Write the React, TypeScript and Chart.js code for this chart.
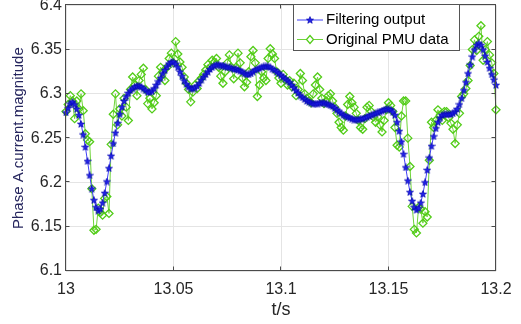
import React, { useEffect, useRef } from "react";
import { Chart, registerables } from "chart.js";

Chart.register(...registerables);

// ---- data ----
const START_TIME = 13;
const SAMPLE_STEP = 0.001;

const seriesLabels = ["Filtering output", "Original PMU data"];
const xTitle = "t/s";
const yTitle = "Phase A.current.magnitude";
const xTicks = [13, 13.05, 13.1, 13.15, 13.2];
const yTicks = [6.1, 6.15, 6.2, 6.25, 6.3, 6.35, 6.4];

const filteringOutput = [
  6.279, 6.284, 6.289, 6.291, 6.288, 6.283, 6.276, 6.266, 6.254, 6.240,
  6.224, 6.208, 6.193, 6.180, 6.172, 6.168, 6.170, 6.177, 6.188, 6.201,
  6.216, 6.230, 6.244, 6.256, 6.267, 6.277, 6.285, 6.292, 6.297, 6.301,
  6.304, 6.306, 6.308, 6.309, 6.309, 6.308, 6.306, 6.304, 6.302, 6.302,
  6.303, 6.306, 6.310, 6.314, 6.318, 6.323, 6.327, 6.331, 6.334, 6.336,
  6.336, 6.334, 6.330, 6.325, 6.320, 6.315, 6.311, 6.308, 6.306, 6.306,
  6.307, 6.309, 6.312, 6.316, 6.319, 6.322, 6.325, 6.328, 6.330, 6.332,
  6.333, 6.333, 6.332, 6.332, 6.331, 6.330, 6.330, 6.329, 6.328, 6.328,
  6.327, 6.326, 6.325, 6.323, 6.322, 6.322, 6.323, 6.325, 6.327, 6.328,
  6.329, 6.330, 6.331, 6.331, 6.331, 6.330, 6.328, 6.327, 6.325, 6.323,
  6.321, 6.319, 6.317, 6.315, 6.313, 6.310, 6.307, 6.304, 6.301, 6.298,
  6.296, 6.294, 6.292, 6.291, 6.290, 6.289, 6.289, 6.289, 6.290, 6.290,
  6.290, 6.289, 6.288, 6.287, 6.286, 6.284, 6.282, 6.280, 6.278, 6.276,
  6.275, 6.274, 6.273, 6.272, 6.271, 6.271, 6.271, 6.272, 6.272, 6.273,
  6.274, 6.275, 6.276, 6.277, 6.278, 6.279, 6.280, 6.281, 6.282, 6.283,
  6.283, 6.282, 6.280, 6.276, 6.268, 6.258, 6.246, 6.232, 6.217, 6.202,
  6.189, 6.179, 6.172, 6.169, 6.171, 6.177, 6.187, 6.200, 6.214, 6.228,
  6.241, 6.252, 6.261, 6.268, 6.273, 6.276, 6.277, 6.277, 6.277, 6.277,
  6.278, 6.280, 6.283, 6.288, 6.295, 6.304, 6.313, 6.323, 6.333, 6.342,
  6.350, 6.355, 6.357, 6.355, 6.350, 6.343, 6.336, 6.329, 6.322, 6.316,
  6.310,
];

const originalPMU = [
  6.280, 6.288, 6.298, 6.292, 6.272, 6.292, 6.283, 6.300, 6.281, 6.255,
  6.248, 6.246, 6.193, 6.146, 6.147, 6.171, 6.166, 6.163, 6.182, 6.184,
  6.165, 6.243, 6.277, 6.300, 6.265, 6.283, 6.275, 6.295, 6.285, 6.270,
  6.305, 6.319, 6.310, 6.298, 6.315, 6.322, 6.329, 6.305, 6.289, 6.295,
  6.283, 6.290, 6.298, 6.320, 6.330, 6.325, 6.315, 6.330, 6.340, 6.346,
  6.335, 6.359, 6.345, 6.336, 6.330, 6.319, 6.312, 6.305, 6.291, 6.302,
  6.310, 6.306, 6.315, 6.318, 6.322, 6.327, 6.333, 6.330, 6.338, 6.336,
  6.340, 6.330, 6.320, 6.312, 6.325, 6.335, 6.344, 6.330, 6.317, 6.330,
  6.346, 6.335, 6.318, 6.308, 6.313, 6.325, 6.342, 6.349, 6.335, 6.297,
  6.310, 6.325, 6.318, 6.315, 6.340, 6.351, 6.345, 6.340, 6.325, 6.318,
  6.312, 6.322, 6.316, 6.310, 6.315, 6.308, 6.312, 6.298, 6.305, 6.323,
  6.315, 6.300, 6.295, 6.292, 6.290, 6.300, 6.310, 6.319, 6.305, 6.295,
  6.289, 6.292, 6.298, 6.300, 6.292, 6.285, 6.278, 6.268, 6.262, 6.259,
  6.275, 6.288, 6.297, 6.290, 6.285, 6.278, 6.270, 6.262, 6.260, 6.272,
  6.285, 6.287, 6.280, 6.274, 6.268, 6.274, 6.265, 6.257, 6.270, 6.282,
  6.290, 6.287, 6.280, 6.262, 6.242, 6.240, 6.275, 6.292, 6.292, 6.250,
  6.218, 6.173, 6.147, 6.143, 6.172, 6.170, 6.154, 6.167, 6.161, 6.225,
  6.268, 6.262, 6.270, 6.282, 6.276, 6.270, 6.280, 6.280, 6.273, 6.267,
  6.260, 6.244, 6.265, 6.278, 6.297, 6.300, 6.306, 6.315, 6.332, 6.350,
  6.361, 6.349, 6.365, 6.377, 6.338, 6.350, 6.359, 6.344, 6.335, 6.323,
  6.282,
];

// ---- styles ----
const FONT = "'Liberation Sans', Arial, Helvetica, sans-serif";
const BLUE_LINE = "#4040f5";
const BLUE_FILL = "#2222e8";
const BLUE_EDGE = "#0000b0";
const GREEN_LINE = "#6fd43a";
const GREEN_MARK = "#52cc18";
const AXIS = "#4a4a4a";
const STAR_SIZE = 8;

function makeStar(size: number) {
  const c = document.createElement("canvas");
  c.width = size;
  c.height = size;
  const ctx = c.getContext("2d")!;
  const cx = size / 2;
  const cy = size / 2 + 0.3;
  const R = size / 2 - 0.3;
  const r = R * 0.42;
  ctx.beginPath();
  for (let k = 0; k < 10; k++) {
    const ang = -Math.PI / 2 + (k * Math.PI) / 5;
    const rad = k % 2 === 0 ? R : r;
    ctx.lineTo(cx + rad * Math.cos(ang), cy + rad * Math.sin(ang));
  }
  ctx.closePath();
  ctx.fillStyle = BLUE_FILL;
  ctx.fill();
  ctx.strokeStyle = BLUE_EDGE;
  ctx.lineWidth = 0.7;
  ctx.stroke();
  return c;
}

const fmt = (v: number) => String(Math.round(v * 100) / 100);

export default function App() {
  const ref = useRef<HTMLCanvasElement | null>(null);

  useEffect(() => {
    const canvas = ref.current;
    if (!canvas) return;
    const star = makeStar(STAR_SIZE);

    const framePlugin = {
      id: "frame",
      afterDatasetsDraw(chart: any) {
        const { ctx, chartArea } = chart;
        const { left, right, top, bottom } = chartArea;
        const xs = chart.scales.x;
        const ys = chart.scales.y;
        ctx.save();
        ctx.strokeStyle = AXIS;
        ctx.lineWidth = 1;
        const L = Math.round(left) - 0.5;
        const Rr = Math.round(right) - 0.5;
        const T = Math.round(top) - 0.5;
        const B = Math.round(bottom) - 0.5;
        ctx.strokeRect(L, T, Rr - L, B - T);
        ctx.beginPath();
        const tl = 4;
        xTicks.forEach((v) => {
          const p = Math.round(xs.getPixelForValue(v)) - 0.5;
          ctx.moveTo(p, B);
          ctx.lineTo(p, B - tl);
          ctx.moveTo(p, T);
          ctx.lineTo(p, T + tl);
        });
        yTicks.forEach((v) => {
          const p = Math.round(ys.getPixelForValue(v)) - 0.5;
          ctx.moveTo(L, p);
          ctx.lineTo(L + tl, p);
          ctx.moveTo(Rr, p);
          ctx.lineTo(Rr - tl, p);
        });
        ctx.stroke();
        ctx.restore();
      },
      afterDraw(chart: any) {
        const { ctx } = chart;
        ctx.save();
        const bx = 293.5, by = 4.5, bw = 166, bh = 46;
        ctx.fillStyle = "#ffffff";
        ctx.fillRect(bx, by, bw, bh);
        ctx.strokeStyle = "#555555";
        ctx.lineWidth = 1;
        ctx.strokeRect(bx, by, bw, bh);
        const rows = [20, 39.5];
        ctx.strokeStyle = BLUE_LINE;
        ctx.beginPath();
        ctx.moveTo(297, rows[0]);
        ctx.lineTo(323, rows[0]);
        ctx.stroke();
        ctx.drawImage(star, 310 - STAR_SIZE / 2, rows[0] - STAR_SIZE / 2, STAR_SIZE, STAR_SIZE);
        ctx.strokeStyle = GREEN_LINE;
        ctx.beginPath();
        ctx.moveTo(297, rows[1]);
        ctx.lineTo(323, rows[1]);
        ctx.stroke();
        ctx.strokeStyle = GREEN_MARK;
        ctx.lineWidth = 1.2;
        ctx.fillStyle = "#ffffff";
        ctx.beginPath();
        ctx.moveTo(310, rows[1] - 4);
        ctx.lineTo(313.5, rows[1]);
        ctx.lineTo(310, rows[1] + 4);
        ctx.lineTo(306.5, rows[1]);
        ctx.closePath();
        ctx.fill();
        ctx.stroke();
        ctx.fillStyle = "#000000";
        ctx.font = `15px ${FONT}`;
        ctx.textAlign = "left";
        ctx.textBaseline = "middle";
        ctx.fillText(seriesLabels[0], 326, rows[0]);
        ctx.fillText(seriesLabels[1], 326, rows[1]);
        ctx.restore();
      },
    };

    const chart = new Chart(canvas, {
      type: "line",
      data: {
        datasets: [
          {
            label: seriesLabels[0],
            data: filteringOutput.map((v, i) => ({ x: START_TIME + i * SAMPLE_STEP, y: v })),
            borderColor: BLUE_LINE,
            borderWidth: 1,
            pointStyle: star as any,
            pointRadius: 4,
            pointHoverRadius: 4,
            clip: false as any,
            order: 0,
          },
          {
            label: seriesLabels[1],
            data: originalPMU.map((v, i) => ({ x: START_TIME + i * SAMPLE_STEP, y: v })),
            borderColor: GREEN_LINE,
            borderWidth: 1,
            pointStyle: "rectRot",
            pointRadius: 4,
            pointHoverRadius: 4,
            pointBorderColor: GREEN_MARK,
            pointBackgroundColor: "rgba(255,255,255,0)",
            pointBorderWidth: 1.3,
            clip: false as any,
            order: 1,
          },
        ],
      },
      options: {
        animation: false,
        responsive: false,
        events: [],
        layout: { padding: { left: 0, right: 25, top: 5, bottom: 0 } },
        plugins: { legend: { display: false }, tooltip: { enabled: false } },
        scales: {
          x: {
            type: "linear",
            min: 13,
            max: 13.2,
            afterBuildTicks: (s: any) => {
              s.ticks = xTicks.map((v) => ({ value: v }));
            },
            afterFit: (s: any) => {
              s.height = 53;
              s.paddingLeft = 0;
              s.paddingRight = 0;
            },
            ticks: {
              autoSkip: false,
              maxRotation: 0,
              padding: 9,
              color: "#262626",
              font: { family: FONT, size: 16 },
              callback: (v: any) => fmt(Number(v)),
            },
            grid: { color: "#e4e4e4", drawTicks: false, lineWidth: 1 },
            border: { display: false },
            title: {
              display: true,
              text: xTitle,
              color: "#262626",
              font: { family: FONT, size: 18 },
              padding: { top: 0, bottom: 3 },
            },
          },
          y: {
            type: "linear",
            min: 6.1,
            max: 6.4,
            afterBuildTicks: (s: any) => {
              s.ticks = yTicks.map((v) => ({ value: v }));
            },
            afterFit: (s: any) => {
              s.width = 66;
              s.paddingTop = 0;
              s.paddingBottom = 0;
            },
            ticks: {
              autoSkip: false,
              padding: 4,
              color: "#262626",
              font: { family: FONT, size: 16 },
              callback: (v: any) => fmt(Number(v)),
            },
            grid: { color: "#e4e4e4", drawTicks: false, lineWidth: 1 },
            border: { display: false },
            title: {
              display: true,
              text: yTitle,
              color: "#26265e",
              font: { family: FONT, size: 15 },
              padding: { top: 10, bottom: 0 },
            },
          },
        },
      } as any,
      plugins: [framePlugin],
    });

    return () => chart.destroy();
  }, []);

  return (
    <div style={{ position: "absolute", left: 0, top: 0, width: 521, height: 324, background: "#ffffff" }}>
      <canvas ref={ref} width={521} height={324} style={{ display: "block" }} />
    </div>
  );
}
